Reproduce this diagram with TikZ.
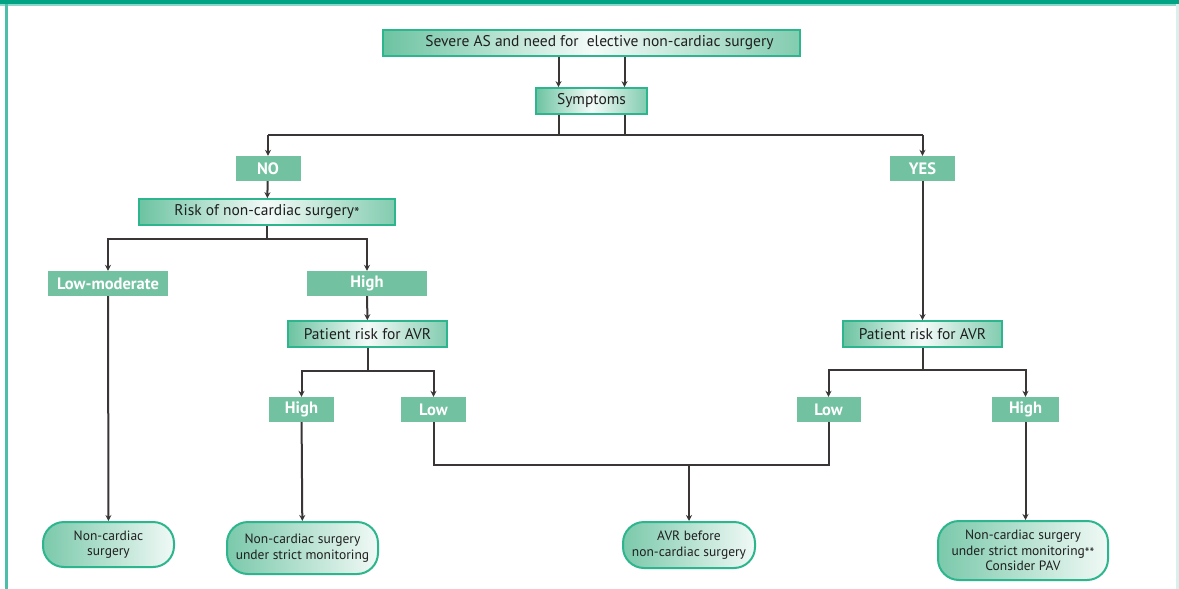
\documentclass[tikz,border=0pt]{standalone}
\usepackage{fontspec}
\setmainfont{PT Sans}
\usetikzlibrary{arrows.meta}
\definecolor{frame}{HTML}{00A384}
\definecolor{edge}{HTML}{2DB58E}
\definecolor{mint}{HTML}{72C2A2}
\definecolor{shadeteal}{HTML}{6CC3A2}
\definecolor{wire}{HTML}{3A3636}
\newcommand{\lowstar}{\raisebox{-0.3ex}{*}}
\begin{document}
\begin{tikzpicture}[x=1pt,y=-1pt,
  hbox/.style={draw=edge, line width=1.6pt, left color=shadeteal, right color=shadeteal!85,
    middle color=white!92!shadeteal, inner sep=0pt, minimum height=26pt,
    font=\fontsize{15.5}{17}\selectfont, text=black!88},
  tag/.style={fill=mint, inner sep=0pt, minimum height=25pt, text=white,
    font=\fontsize{16.5}{18}\selectfont\bfseries},
  term/.style={draw=edge, line width=2pt, rounded corners=21pt, left color=shadeteal!90,
    right color=white!90!shadeteal, inner sep=0pt, align=center,
    font=\fontsize{13.5}{15.5}\selectfont, text=black!88},
  wireline/.style={draw=wire, line width=2pt},
  arr/.style={wireline, -{Stealth[length=6pt,width=6pt]}}]
\useasboundingbox (0,0) rectangle (1179,589);
% page frame
\fill[white] (0,0) rectangle (1179,589);
\fill[frame] (0,0) rectangle (1179,4);
\fill[frame!45] (0,4) rectangle (1179,6);
\fill[frame!70] (5,4) rectangle (7.5,589);
\fill[frame!15] (1176,4) rectangle (1179,589);

% decision boxes
\node[hbox, minimum width=417pt] (top) at (591.5,43) {\hspace*{16pt}Severe AS and need for~ elective non-cardiac surgery};
\node[hbox, minimum width=111pt] (sym) at (591.5,101) {Symptoms};
\node[tag, minimum width=65pt] (no) at (268,168.5) {NO};
\node[tag, minimum width=65pt] (yes) at (922.5,168.5) {YES};
\node[hbox, minimum width=256pt] (risk) at (267,212) {Risk of non-cardiac surgery\lowstar};
\node[tag, minimum width=120pt] (lowmod) at (108,283.5) {Low-moderate};
\node[tag, minimum width=120pt] (highA) at (367,283.5) {High};
\node[hbox, minimum width=159pt] (prL) at (367.5,334) {Patient risk for AVR};
\node[hbox, minimum width=159pt] (prR) at (922.5,334) {Patient risk for AVR};
\node[tag, minimum width=65pt] (highL) at (301.5,409.5) {High};
\node[tag, minimum width=65pt] (lowL) at (433.5,409.5) {Low};
\node[tag, minimum width=64pt] (lowR) at (828.5,409.5) {Low};
\node[tag, minimum width=67pt] (highR) at (1025.5,409.5) {High};

% outcomes
\node[term, minimum width=131pt, minimum height=45pt] (out1) at (108.5,544.5) {Non-cardiac\\surgery};
\node[term, minimum width=151pt, minimum height=52pt] (out2) at (302.5,548) {Non-cardiac surgery\\under strict monitoring};
\node[term, minimum width=132pt, minimum height=46pt] (out3) at (689,545) {AVR before\\non-cardiac surgery};
\node[term, minimum width=170pt, minimum height=59pt] (out4) at (1023,550.5) {Non-cardiac surgery\\under strict monitoring\lowstar\lowstar\\Consider PAV};

% connectors
\draw[arr] ([xshift=-33pt]top.south) -- ([xshift=-33pt]sym.north);
\draw[arr] ([xshift=33pt]top.south) -- ([xshift=33pt]sym.north);
\coordinate (bus) at (591.5,135);
\draw[wireline] ([xshift=-33pt]sym.south) -- ([xshift=-33pt]sym.south |- bus);
\draw[wireline] ([xshift=33pt]sym.south) -- ([xshift=33pt]sym.south |- bus);
\draw[wireline] (no.north |- bus) -- (yes.north |- bus);
\draw[arr] (no.north |- bus) -- (no.north);
\draw[arr] (yes.north |- bus) -- (yes.north);
\draw[arr] (no) -- (risk);
\draw[arr] (risk.south) -- ++(0,13) -| (lowmod.north);
\draw[arr] (risk.south) -- ++(0,13) -| (highA.north);
\draw[arr] (highA) -- (prL);
\draw[arr] (prL.south) -- ++(0,23) -| (highL.north);
\draw[arr] (prL.south) -- ++(0,23) -| (lowL.north);
\draw[arr] (yes) -- (prR);
\draw[arr] (prR.south) -- ++(0,22) -| (lowR.north);
\draw[arr] (prR.south) -- ++(0,22) -| (highR.north);
\draw[arr] (lowmod) -- (out1);
\draw[arr] (highL) -- (out2);
\draw[arr] (highR) -- (highR |- out4.north);
\coordinate (merge) at (689,465);
\draw[wireline] (lowL.south) |- (merge) -| (lowR.south);
\draw[arr] (merge) -- (out3.north);
\end{tikzpicture}
\end{document}
